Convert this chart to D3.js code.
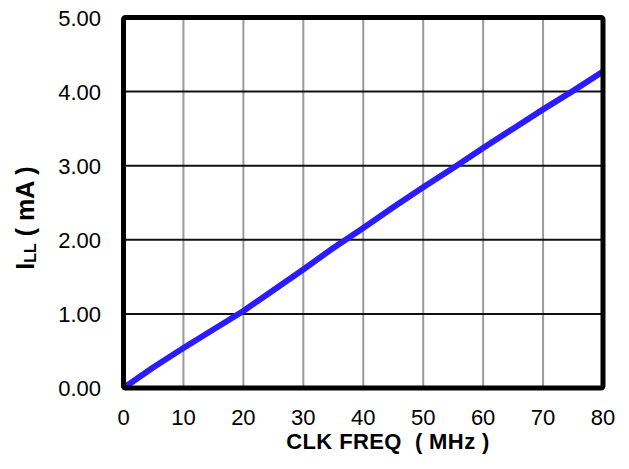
<!DOCTYPE html>
<html>
<head>
<meta charset="utf-8">
<script src="https://cdn.jsdelivr.net/npm/d3@7"></script>
<style>
  body { margin: 0; background: #fff; }
  text { font-family: "Liberation Sans", Arial, sans-serif; fill: #000; }
</style>
</head>
<body>
<div class="canvas"></div>
<script>
// data
const freq = [0, 5, 10, 15, 20, 25, 30, 35, 40, 45, 50, 55, 60, 65, 70, 75, 80];
const current = [0, 0.28, 0.54, 0.79, 1.04, 1.32, 1.60, 1.89, 2.16, 2.44, 2.71, 2.97, 3.24, 3.50, 3.76, 4.01, 4.27];
const xTicks = [0, 10, 20, 30, 40, 50, 60, 70, 80];
const yTicks = [0, 1, 2, 3, 4, 5];

const dims = { width: 629, height: 469 };
const plot = { left: 123.5, right: 603, top: 17.5, bottom: 388 };

const svg = d3.select('.canvas')
    .append('svg')
    .attr('width', dims.width)
    .attr('height', dims.height);

const x = d3.scaleLinear().domain([0, 80]).range([plot.left, plot.right]);
const y = d3.scaleLinear().domain([0, 5]).range([plot.bottom, plot.top]);

// vertical grid (gray)
svg.append('g')
    .selectAll('line')
    .data(xTicks.slice(1, -1))
    .enter().append('line')
        .attr('x1', d => x(d)).attr('x2', d => x(d))
        .attr('y1', plot.top).attr('y2', plot.bottom)
        .attr('stroke', '#9a9a9a')
        .attr('stroke-width', 2);

// horizontal grid (black)
svg.append('g')
    .selectAll('line')
    .data(yTicks.slice(1, -1))
    .enter().append('line')
        .attr('x1', plot.left).attr('x2', plot.right)
        .attr('y1', d => y(d)).attr('y2', d => y(d))
        .attr('stroke', '#111')
        .attr('stroke-width', 2);

// curve
const line = d3.line()
    .x((d, i) => x(freq[i]))
    .y(d => y(d));

svg.append('path')
    .datum(current)
    .attr('d', line)
    .attr('fill', 'none')
    .attr('stroke', '#2a1cff')
    .attr('stroke-width', 6)
    .attr('stroke-linejoin', 'round');

// frame
svg.append('rect')
    .attr('x', plot.left).attr('y', plot.top)
    .attr('width', plot.right - plot.left)
    .attr('height', plot.bottom - plot.top)
    .attr('rx', 2)
    .attr('fill', 'none')
    .attr('stroke', '#000')
    .attr('stroke-width', 5);

// tick labels
svg.append('g')
    .selectAll('text')
    .data(xTicks)
    .enter().append('text')
        .attr('x', d => x(d))
        .attr('y', 425)
        .attr('text-anchor', 'middle')
        .style('font-size', '22px')
        .text(d => d);

svg.append('g')
    .selectAll('text')
    .data(yTicks)
    .enter().append('text')
        .attr('x', 101)
        .attr('y', d => y(d) + 8)
        .attr('text-anchor', 'end')
        .style('font-size', '22px')
        .text(d => d3.format('.2f')(d));

// axis titles
svg.append('text')
    .attr('x', 388)
    .attr('y', 449)
    .attr('text-anchor', 'middle')
    .style('font-size', '22px')
    .style('font-weight', 'bold')
    .style('letter-spacing', '0.4px')
    .attr('xml:space', 'preserve')
    .text('CLK FREQ  ( MHz )');

const yTitle = svg.append('text')
    .attr('transform', 'translate(34, 218) rotate(-90)')
    .attr('text-anchor', 'middle')
    .style('font-size', '25px')
    .style('font-weight', 'bold')
    .attr('xml:space', 'preserve');
yTitle.append('tspan').text('I');
yTitle.append('tspan').attr('dy', 2).style('font-size', '16px').text('LL');
yTitle.append('tspan').attr('dy', -2).text(' ( mA )');
</script>
</body>
</html>
